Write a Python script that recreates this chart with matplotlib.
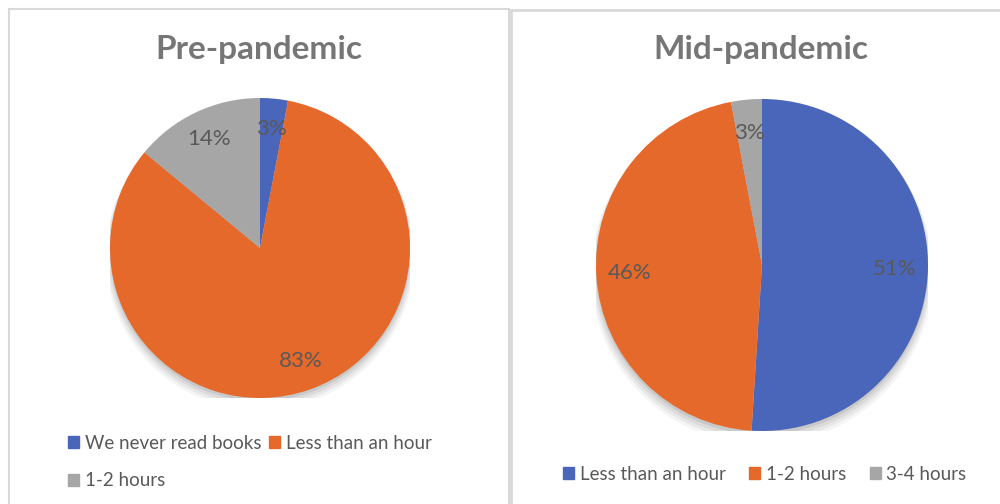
import matplotlib.pyplot as plt
from matplotlib.patches import Rectangle, Circle, Patch

W, H = 1000, 504

pre_labels = ["We never read books", "Less than an hour", "1-2 hours"]
pre_values = [3, 83, 14]
pre_colors = ["#4a66bb", "#e5692a", "#a6a6a6"]

mid_labels = ["Less than an hour", "1-2 hours", "3-4 hours"]
mid_values = [51, 46, 3]
mid_colors = ["#4a66bb", "#e5692a", "#a6a6a6"]

TXT = "#595959"
TITLE = "#767676"
FONT = ["Lato", "DejaVu Sans"]
plt.rcParams["font.family"] = FONT

fig = plt.figure(figsize=(W / 100, H / 100), dpi=100)


def px_axes(x0, y0, x1, y1):
    # pixel box (top-left origin) -> figure axes
    return fig.add_axes([x0 / W, 1 - y1 / H, (x1 - x0) / W, (y1 - y0) / H])


# panel borders
bord = "#d9d9d9"
fig.patches.append(Rectangle((9 / W, -0.1), 500 / W, 1.1 - 9 / H, transform=fig.transFigure,
                             fill=False, edgecolor=bord, lw=1.5))
fig.patches.append(Rectangle((511 / W, -0.1), 0.6, 1.1 - 10 / H, transform=fig.transFigure,
                             fill=False, edgecolor=bord, lw=2))


def draw_pie(cx, cy, r, values, colors):
    ax = px_axes(cx - r, cy - r, cx + r, cy + r)
    # soft shadow
    for i, a in enumerate([0.04, 0.05, 0.06, 0.08]):
        ax.add_patch(Circle((0, -0.02 - 0.01 * (3 - i)), 1.0 + 0.01 * (3 - i),
                            color="black", alpha=a, lw=0, zorder=0))
    wedges, _, autotexts = ax.pie(values, colors=colors, startangle=90, counterclock=False,
                                  autopct=lambda p: f"{p:.0f}%", pctdistance=0.8,
                                  wedgeprops=dict(linewidth=0))
    for t in autotexts:
        t.set_color(TXT)
        t.set_fontsize(16)
    ax.set_xlim(-1.0, 1.0)
    ax.set_ylim(-1.0, 1.0)
    ax.set_aspect("auto")
    ax.axis("off")
    return ax


draw_pie(260, 248, 150, pre_values, pre_colors)
draw_pie(762, 265, 166, mid_values, mid_colors)

fig.text(259 / W, 1 - 50 / H, "Pre-pandemic", ha="center", va="center",
         fontsize=24, fontweight="bold", color=TITLE)
fig.text(761 / W, 1 - 50 / H, "Mid-pandemic", ha="center", va="center",
         fontsize=24, fontweight="bold", color=TITLE)

# legend fills column-wise, so reorder to read row-wise
h1 = [Patch(color=pre_colors[i], label=pre_labels[i]) for i in (0, 2, 1)]
fig.legend(handles=h1, loc="upper left", bbox_to_anchor=(51 / W, 1 - 418 / H), ncol=2,
           frameon=False, fontsize=13.5, labelcolor=TXT, handlelength=0.6, handleheight=0.6,
           handletextpad=0.3, columnspacing=0.4, labelspacing=1.1)

h2 = [Patch(color=c, label=l) for c, l in zip(mid_colors, mid_labels)]
fig.legend(handles=h2, loc="center left", bbox_to_anchor=(546 / W, 1 - 474 / H), ncol=3,
           frameon=False, fontsize=13.5, labelcolor=TXT, handlelength=0.6, handleheight=0.6,
           handletextpad=0.3, columnspacing=1.25)

fig.savefig("out.png", dpi=100, facecolor="white")
